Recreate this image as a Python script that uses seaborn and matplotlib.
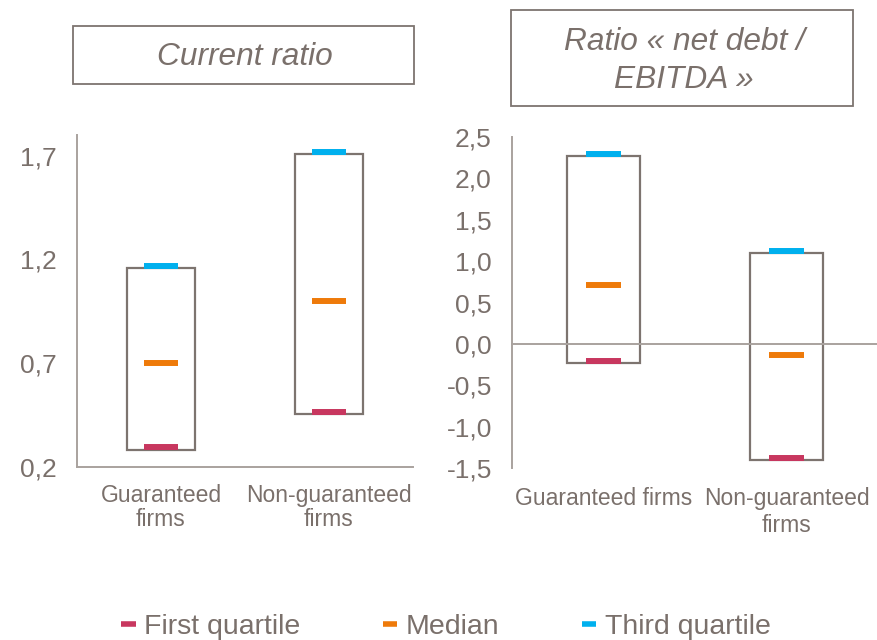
"""Quartiles of the current ratio and net debt / EBITDA ratio, guaranteed vs. non-guaranteed firms."""

import matplotlib.pyplot as plt
import numpy as np
import pandas as pd
import seaborn as sns
from matplotlib.lines import Line2D
from matplotlib.patches import Rectangle

FIRMS_LEFT = ["Guaranteed\nfirms", "Non-guaranteed\nfirms"]
FIRMS_RIGHT = ["Guaranteed firms", "Non-guaranteed\nfirms"]

CURRENT_BOX_LOW = [0.28, 0.455]
CURRENT_BOX_HIGH = [1.16, 1.71]
CURRENT_Q1 = [0.295, 0.465]
CURRENT_MEDIAN = [0.70, 1.00]
CURRENT_Q3 = [1.17, 1.72]
CURRENT_TICKS = [0.2, 0.7, 1.2, 1.7]

DEBT_BOX_LOW = [-0.23, -1.40]
DEBT_BOX_HIGH = [2.27, 1.10]
DEBT_Q1 = [-0.205, -1.38]
DEBT_MEDIAN = [0.71, -0.13]
DEBT_Q3 = [2.29, 1.12]
DEBT_TICKS = [-1.5, -1.0, -0.5, 0.0, 0.5, 1.0, 1.5, 2.0, 2.5]

STATS = ["First quartile", "Median", "Third quartile"]
PALETTE = {"First quartile": "#c8375f", "Median": "#ee7a0a", "Third quartile": "#00b0ee"}

TEXT = "#7a706b"
BOX_EDGE = "#7d746f"
AXIS = "#a9a29e"


def comma(value: float) -> str:
    return f"{value:.1f}".replace(".", ",")


def draw_panel(ax, firms, low, high, q1, median, q3, ticks):
    sns.barplot(
        x=firms,
        y=np.subtract(high, low),
        bottom=low,
        order=firms,
        width=0.4,
        fill=False,
        color=BOX_EDGE,
        linewidth=1.6,
        errorbar=None,
        ax=ax,
    )
    marks = pd.DataFrame({
        "firm": firms * 3,
        "stat": np.repeat(STATS, len(firms)),
        "value": list(q1) + list(median) + list(q3),
    })
    sns.stripplot(
        data=marks,
        x="firm",
        y="value",
        hue="stat",
        hue_order=STATS,
        palette=PALETTE,
        order=firms,
        jitter=False,
        dodge=False,
        marker="_",
        size=24.5,
        linewidth=4.3,
        edgecolor="face",
        legend=False,
        zorder=3,
        ax=ax,
    )
    ax.set_xlim(-0.5, 1.5)
    ax.set_ylim(ticks[0], ticks[-1] + (0.1 if len(ticks) == 4 else 0))
    ax.set_yticks(ticks)
    ax.set_yticklabels([comma(t) for t in ticks])
    ax.set_xlabel("")
    ax.set_ylabel("")
    ax.set_xticks([0, 1])
    ax.set_xticklabels(firms)
    ax.set_xticks([-0.5, 0.5, 1.5], minor=True)
    for side in ("top", "right"):
        ax.spines[side].set_visible(False)
    for side in ("left", "bottom"):
        ax.spines[side].set_color(AXIS)
        ax.spines[side].set_linewidth(1.4)
    ax.tick_params(axis="y", colors=AXIS, labelcolor=TEXT, labelsize=19, length=4, width=1.2, pad=10.5, direction="out")
    ax.tick_params(axis="x", which="major", length=0, labelcolor=TEXT, labelsize=16.5)
    ax.tick_params(axis="x", which="minor", colors=AXIS, length=4, width=1.2, direction="out")
    for label in ax.get_xticklabels():
        label.set_linespacing(1.1)


def main() -> None:
    sns.set_style("white")
    plt.rcParams["font.family"] = ["Liberation Sans", "DejaVu Sans"]

    fig = plt.figure(figsize=(8.77, 6.4), dpi=100)
    ax_left = fig.add_axes([77 / 877, 1 - 467 / 640, 336 / 877, 332 / 640])
    ax_right = fig.add_axes([512 / 877, 1 - 468 / 640, 366 / 877, 331 / 640])

    draw_panel(ax_left, FIRMS_LEFT, CURRENT_BOX_LOW, CURRENT_BOX_HIGH,
               CURRENT_Q1, CURRENT_MEDIAN, CURRENT_Q3, CURRENT_TICKS)
    ax_left.tick_params(axis="x", which="major", pad=12)

    draw_panel(ax_right, FIRMS_RIGHT, DEBT_BOX_LOW, DEBT_BOX_HIGH,
               DEBT_Q1, DEBT_MEDIAN, DEBT_Q3, DEBT_TICKS)
    ax_right.spines["bottom"].set_position(("data", 0))
    ax_right.set_xticks([0.5], minor=True)
    ax_right.tick_params(axis="x", which="major", pad=103)

    fig.add_artist(Rectangle((73 / 877, 1 - 84 / 640), 341 / 877, 58 / 640,
                             transform=fig.transFigure, fill=False, edgecolor=BOX_EDGE, linewidth=1.3))
    fig.text(245 / 877, 1 - 57 / 640, "Current ratio", ha="center", va="center",
             style="italic", fontsize=22.8, color=TEXT)
    fig.add_artist(Rectangle((511 / 877, 1 - 106 / 640), 342 / 877, 96 / 640,
                             transform=fig.transFigure, fill=False, edgecolor=BOX_EDGE, linewidth=1.3))
    fig.text(684 / 877, 1 - 61 / 640, "Ratio « net debt /\nEBITDA »", ha="center", va="center",
             style="italic", fontsize=22.8, color=TEXT, linespacing=1.35)

    handles = [Line2D([], [], color=PALETTE[s], linewidth=4, solid_capstyle="butt") for s in STATS]
    fig.legend(handles, STATS, loc="center", bbox_to_anchor=(446 / 877, 1 - 627 / 640), ncol=3,
               frameon=False, fontsize=20.5, handlelength=0.5, handletextpad=0.3,
               columnspacing=2.9, labelcolor=TEXT)

    fig.savefig("out.png", dpi=100)


if __name__ == "__main__":
    main()
